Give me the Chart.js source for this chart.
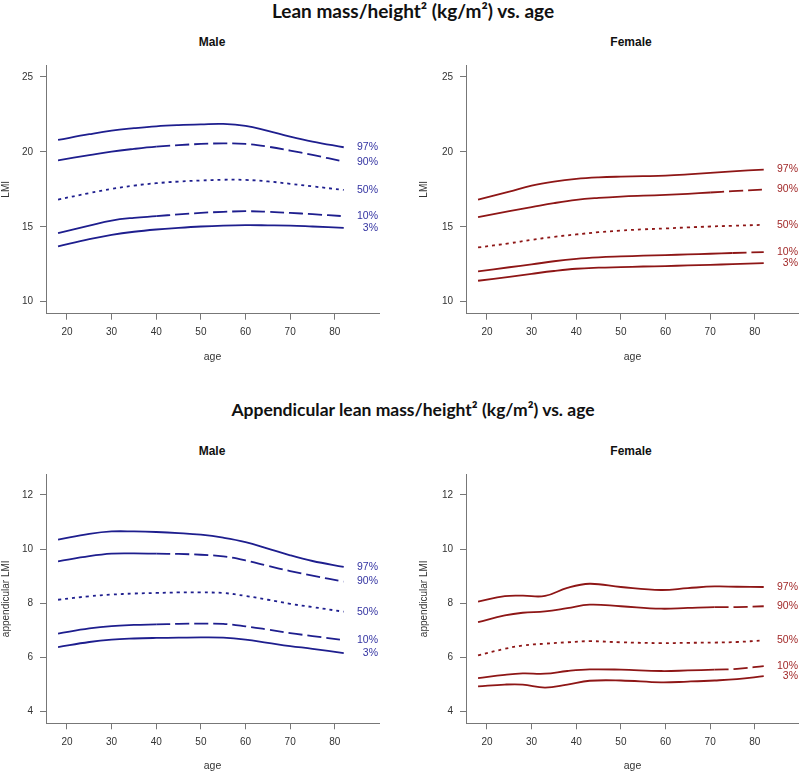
<!DOCTYPE html>
<html>
<head>
<meta charset="utf-8">
<script src="https://cdn.jsdelivr.net/npm/chart.js@4"></script>
<style>
body { margin: 0; width: 799px; height: 772px; background: #fff; position: relative; overflow: hidden; font-family: "Liberation Sans", Arial, sans-serif; }
.title { position: absolute; left: 13px; width: 800px; text-align: center; font-family: Lato, "Open Sans", sans-serif; font-weight: bold; color: #111; line-height: 20px; }
.sub { position: absolute; width: 200px; text-align: center; font-weight: bold; font-size: 12px; color: #111; line-height: 14px; }
.panel { position: absolute; }
</style>
</head>
<body>
<div class="title" style="top:1px; font-size:19px">Lean mass/height² (kg/m²) vs. age</div>
<div class="title" style="top:400px; font-size:17.5px">Appendicular lean mass/height² (kg/m²) vs. age</div>
<div class="sub" style="left:112px; top:35px">Male</div>
<div class="sub" style="left:531px; top:35px">Female</div>
<div class="sub" style="left:112px; top:444px">Male</div>
<div class="sub" style="left:531px; top:444px">Female</div>

<canvas id="lmiMale" class="panel" style="left:0px; top:50px" width="392" height="322"></canvas>
<canvas id="lmiFemale" class="panel" style="left:418px; top:50px" width="381" height="322"></canvas>
<canvas id="almiMale" class="panel" style="left:0px; top:460px" width="392" height="312"></canvas>
<canvas id="almiFemale" class="panel" style="left:418px; top:460px" width="381" height="312"></canvas>

<script>
// centile labels and ticks
var centiles = ['97%', '90%', '50%', '10%', '3%'];
var xTicks = [20, 30, 40, 50, 60, 70, 80];
var yTicksLmi = [10, 15, 20, 25];
var yTicksAlmi = [4, 6, 8, 10, 12];

// ages the curves were read at
var ages = [18, 25, 30, 35, 40, 45, 50, 55, 60, 65, 70, 75, 82];
var agesAlmiFemale = [18, 24, 28, 33, 38, 43, 50, 59, 65, 71, 76, 82];

// LMI male
var lmiMale97 = [20.80, 21.18, 21.42, 21.58, 21.71, 21.79, 21.84, 21.87, 21.74, 21.40, 21.02, 20.69, 20.31];
var lmiMale90 = [19.44, 19.78, 20.02, 20.20, 20.35, 20.45, 20.53, 20.57, 20.53, 20.35, 20.09, 19.80, 19.35];
var lmiMale50 = [16.82, 17.25, 17.53, 17.75, 17.91, 18.02, 18.09, 18.14, 18.13, 18.03, 17.87, 17.70, 17.46];
var lmiMale10 = [14.58, 15.08, 15.42, 15.60, 15.71, 15.83, 15.93, 16.00, 16.04, 16.00, 15.93, 15.84, 15.71];
var lmiMale3 = [13.69, 14.17, 14.46, 14.67, 14.82, 14.93, 15.02, 15.08, 15.11, 15.10, 15.08, 15.02, 14.93];

// LMI female
var lmiFemale97 = [16.82, 17.35, 17.75, 18.02, 18.20, 18.30, 18.35, 18.38, 18.42, 18.50, 18.60, 18.70, 18.82];
var lmiFemale90 = [15.64, 16.04, 16.31, 16.58, 16.80, 16.93, 17.02, 17.08, 17.13, 17.20, 17.29, 17.38, 17.49];
var lmiFemale50 = [13.62, 13.90, 14.13, 14.33, 14.49, 14.64, 14.75, 14.83, 14.89, 14.96, 15.02, 15.07, 15.13];
var lmiFemale10 = [12.02, 12.30, 12.49, 12.70, 12.86, 12.96, 13.02, 13.07, 13.11, 13.16, 13.20, 13.25, 13.31];
var lmiFemale3 = [11.40, 11.66, 11.86, 12.05, 12.20, 12.27, 12.31, 12.35, 12.38, 12.42, 12.46, 12.51, 12.58];

// appendicular LMI male
var almiMale97 = [10.35, 10.56, 10.65, 10.65, 10.63, 10.59, 10.53, 10.42, 10.26, 10.02, 9.77, 9.56, 9.34];
var almiMale90 = [9.55, 9.74, 9.83, 9.84, 9.83, 9.82, 9.79, 9.73, 9.58, 9.38, 9.19, 9.02, 8.80];
var almiMale50 = [8.13, 8.26, 8.32, 8.36, 8.38, 8.40, 8.40, 8.38, 8.27, 8.13, 7.98, 7.86, 7.69];
var almiMale10 = [6.88, 7.07, 7.16, 7.20, 7.22, 7.24, 7.25, 7.24, 7.15, 7.03, 6.90, 6.79, 6.64];
var almiMale3 = [6.38, 6.57, 6.66, 6.70, 6.72, 6.73, 6.74, 6.73, 6.66, 6.54, 6.42, 6.32, 6.16];

// appendicular LMI female
var almiFemale97 = [8.06, 8.26, 8.28, 8.27, 8.57, 8.72, 8.60, 8.49, 8.56, 8.62, 8.61, 8.60];
var almiFemale90 = [7.30, 7.55, 7.65, 7.70, 7.82, 7.95, 7.89, 7.80, 7.83, 7.86, 7.86, 7.89];
var almiFemale50 = [6.08, 6.32, 6.44, 6.51, 6.56, 6.60, 6.56, 6.53, 6.54, 6.55, 6.57, 6.63];
var almiFemale10 = [5.24, 5.36, 5.41, 5.40, 5.50, 5.56, 5.55, 5.50, 5.52, 5.55, 5.58, 5.68];
var almiFemale3 = [4.93, 5.00, 5.00, 4.89, 5.00, 5.14, 5.15, 5.08, 5.11, 5.15, 5.20, 5.31];

var BLUE = '#1e1e8e', BLUE_TXT = '#3434a2';
var RED = '#8e1616', RED_TXT = '#a22a2a';
var AXIS = '#777';

//centile text at the right end of each curve
var endLabels = {
    id: 'endLabels',
    afterDatasetsDraw(chart, args, opts) {
        var ctx = chart.ctx, x = chart.scales.x, y = chart.scales.y;
        ctx.save();
        ctx.font = '10.5px "Liberation Sans", Arial, sans-serif';
        ctx.fillStyle = opts.color;
        ctx.textAlign = 'right';
        ctx.textBaseline = 'middle';
        chart.data.datasets.forEach(ds => {
            var last = ds.data[ds.data.length - 1];
            ctx.fillText(ds.label, x.right - 1, y.getPixelForValue(last.y));
        });
        ctx.restore();
    }
};

var makePanel = (id, xs, series, p) => {
    // p: colour, label colour, y range/ticks, y title, layout sizes, dash starts
    var styles = [
        { dash: [], from: null },
        { dash: [], from: p.dash90 },
        { dash: [3, 4], from: null },
        { dash: [], from: p.dash10 },
        { dash: [], from: null }
    ];
    var datasets = series.map((vals, i) => ({
        label: centiles[i],
        data: vals.map((v, j) => ({ x: xs[j], y: v })),
        borderColor: p.color,
        borderWidth: 1.8,
        borderDash: styles[i].dash,
        pointRadius: 0,
        tension: 0.4,
        fill: false,
        segment: {
            borderDash: ctx => (styles[i].from !== null && ctx.p0.parsed.x >= styles[i].from) ? [14, 5] : undefined
        }
    }));
    return new Chart(document.getElementById(id), {
        type: 'line',
        data: { datasets: datasets },
        plugins: [endLabels],
        options: {
            responsive: false,
            animation: false,
            layout: { padding: { top: p.padTop, right: p.padRight, bottom: p.padBottom, left: 0 } },
            plugins: {
                legend: { display: false },
                tooltip: { enabled: false },
                endLabels: { color: p.labelColor }
            },
            scales: {
                x: {
                    type: 'linear',
                    min: 15.3,
                    max: 89.9,
                    afterBuildTicks: axis => { axis.ticks = xTicks.map(v => ({ value: v })); },
                    afterFit: axis => { axis.height = p.xHeight; },
                    grid: { drawOnChartArea: false, drawTicks: true, tickLength: 6, color: AXIS },
                    border: { display: true, color: AXIS, width: 1 },
                    ticks: { color: '#333', font: { size: 10, family: '"Liberation Sans", Arial' }, padding: 7, maxRotation: 0 },
                    title: { display: true, text: 'age', color: '#333', font: { size: 10.5, family: '"Liberation Sans", Arial' }, padding: { top: 0, bottom: 0 } }
                },
                y: {
                    min: p.yMin,
                    max: p.yMax,
                    afterBuildTicks: axis => { axis.ticks = p.yTicks.map(v => ({ value: v })); },
                    afterFit: axis => { axis.width = p.yWidth; },
                    grid: { drawOnChartArea: false, drawTicks: true, tickLength: 6, color: AXIS },
                    border: { display: true, color: AXIS, width: 1 },
                    ticks: { color: '#333', font: { size: 10, family: '"Liberation Sans", Arial' }, padding: 7 },
                    title: { display: true, text: p.yTitle, color: '#333', font: { size: 10, family: '"Liberation Sans", Arial' }, padding: { top: 0, bottom: 0 } }
                }
            }
        }
    });
};

var topLayout = { padTop: 15, padBottom: 9, xHeight: 49.3, yMin: 9.2, yMax: 25.8, yTicks: yTicksLmi, yTitle: 'LMI' };
var botLayout = { padTop: 14.3, padBottom: 0, xHeight: 48.7, yMin: 3.57, yMax: 12.76, yTicks: yTicksAlmi, yTitle: 'appendicular LMI' };

makePanel('lmiMale', ages, [lmiMale97, lmiMale90, lmiMale50, lmiMale10, lmiMale3],
    Object.assign({}, topLayout, { color: BLUE, labelColor: BLUE_TXT, yWidth: 46, padRight: 13, dash90: 36, dash10: 36 }));
makePanel('lmiFemale', ages, [lmiFemale97, lmiFemale90, lmiFemale50, lmiFemale10, lmiFemale3],
    Object.assign({}, topLayout, { color: RED, labelColor: RED_TXT, yWidth: 48, padRight: 0, dash90: 70, dash10: 72 }));
makePanel('almiMale', ages, [almiMale97, almiMale90, almiMale50, almiMale10, almiMale3],
    Object.assign({}, botLayout, { color: BLUE, labelColor: BLUE_TXT, yWidth: 46, padRight: 13, dash90: 38, dash10: 36 }));
makePanel('almiFemale', agesAlmiFemale, [almiFemale97, almiFemale90, almiFemale50, almiFemale10, almiFemale3],
    Object.assign({}, botLayout, { color: RED, labelColor: RED_TXT, yWidth: 48, padRight: 0, dash90: 71, dash10: 71 }));
</script>
</body>
</html>
